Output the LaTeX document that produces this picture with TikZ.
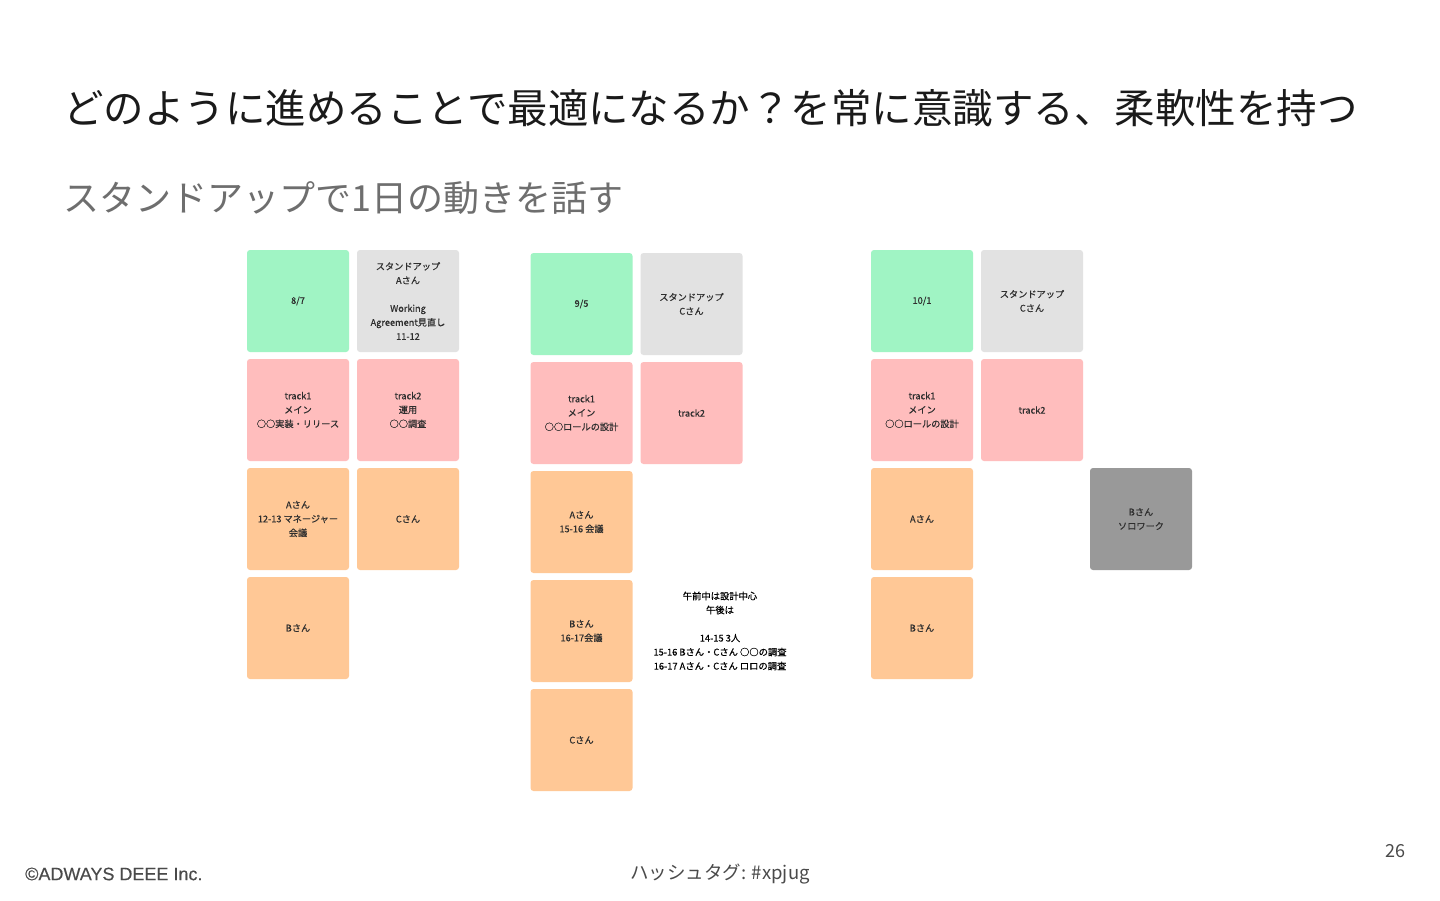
\documentclass[tikz,border=0pt]{standalone}
\usepackage{fontspec}
\setmainfont{Noto Sans CJK JP}
\newfontfamily\cjk{Noto Sans CJK JP}
\newfontfamily\cjkbox[FakeBold=0.4]{Noto Sans CJK JP}
\newfontfamily\footfont[FakeBold=0.3]{Liberation Sans}
\definecolor{cgreen}{HTML}{A0F4C4}
\definecolor{cgray}{HTML}{E2E2E2}
\definecolor{cpink}{HTML}{FFBDBD}
\definecolor{corange}{HTML}{FFC896}
\definecolor{cdark}{HTML}{999999}
\definecolor{ctitle}{HTML}{1A1A1A}
\definecolor{csub}{HTML}{6E6E6E}
\definecolor{cfoot}{HTML}{4A4A4A}
\definecolor{cboxtext}{HTML}{2E2E2E}
\tikzset{
  card/.style={rounded corners=3pt, minimum width=102pt, minimum height=102pt, inner sep=2pt,
    align=center, text=cboxtext, font=\cjkbox\fontsize{9.2}{14}\selectfont},
  daycard/.style={card, fill=cgreen},
  standcard/.style={card, fill=cgray},
  trackcard/.style={card, fill=cpink},
  personcard/.style={card, fill=corange},
  solocard/.style={card, fill=cdark},
  note/.style={align=center, text=black, font=\cjkbox\fontsize{9.3}{14}\selectfont, inner sep=0pt},
}
\begin{document}
\begin{tikzpicture}[x=1pt,y=-1pt]
\useasboundingbox[fill=white] (0,0) rectangle (1440,900);
% title
\node[anchor=west, inner sep=0pt, text=ctitle, font=\cjk\fontsize{40.5}{44}\selectfont] (title) at (63,108)
  {どのように進めることで最適になるか？を常に意識する、柔軟性を持つ};
\node[anchor=west, inner sep=0pt, text=csub, font=\cjk\fontsize{36}{40}\selectfont] (subtitle) at (63,198)
  {スタンドアップで1日の動きを話す};
% left group
\node[daycard] (l11) at (298,301) {8/7};
\node[standcard] (l12) at (408,301) {スタンドアップ\\Aさん\\ \\Working\\Agreement見直し\\11-12};
\node[trackcard] (l21) at (298,410) {track1\\メイン\\○○実装・リリース};
\node[trackcard] (l22) at (408,410) {track2\\運用\\○○調査};
\node[personcard] (l31) at (298,519) {Aさん\\12-13 マネージャー\\会議};
\node[personcard] (l32) at (408,519) {Cさん};
\node[personcard] (l41) at (298,628) {Bさん};
% middle group
\node[daycard] (m11) at (581.5,304) {9/5};
\node[standcard] (m12) at (691.5,304) {スタンドアップ\\Cさん};
\node[trackcard] (m21) at (581.5,413) {track1\\メイン\\○○ロールの設計};
\node[trackcard] (m22) at (691.5,413) {track2};
\node[personcard] (m31) at (581.5,522) {Aさん\\15-16 会議};
\node[personcard] (m41) at (581.5,631) {Bさん\\16-17会議};
\node[personcard] (m51) at (581.5,740) {Cさん};
\node[note] (mnote) at (720,631) {午前中は設計中心\\午後は\\ \\14-15 3人\\15-16 Bさん・Cさん ○○の調査\\16-17 Aさん・Cさん ロロの調査};
% right group
\node[daycard] (r11) at (922,301) {10/1};
\node[standcard] (r12) at (1032,301) {スタンドアップ\\Cさん};
\node[trackcard] (r21) at (922,410) {track1\\メイン\\○○ロールの設計};
\node[trackcard] (r22) at (1032,410) {track2};
\node[personcard] (r31) at (922,519) {Aさん};
\node[solocard] (r33) at (1141,519) {Bさん\\ソロワーク};
\node[personcard] (r41) at (922,628) {Bさん};
% footer
\node[anchor=west, inner sep=0pt, text=cfoot, font=\footfont\fontsize{18}{20}\selectfont] (copy) at (25,874) {©ADWAYS DEEE Inc.};
\node[inner sep=0pt, text=cfoot, font=\cjk\fontsize{18.5}{20}\selectfont] (hash) at (720,874) {ハッシュタグ: \#xpjug};
\node[inner sep=0pt, text=cfoot, font=\cjk\fontsize{18}{19}\selectfont] (page) at (1395,851) {26};
\end{tikzpicture}
\end{document}
